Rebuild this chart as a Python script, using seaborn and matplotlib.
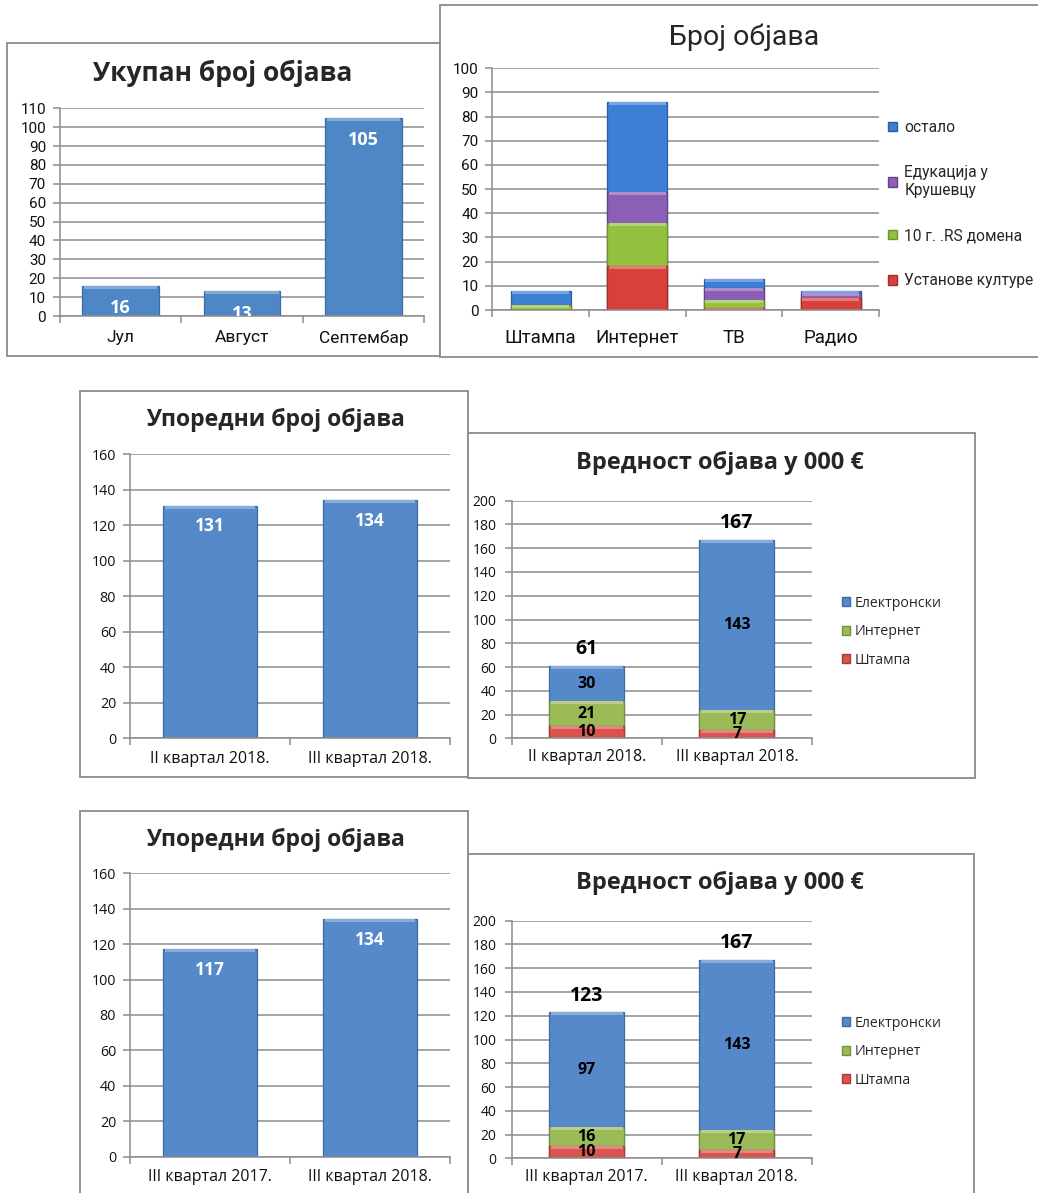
import numpy as np
import pandas as pd
import matplotlib
matplotlib.use("Agg")
import matplotlib.pyplot as plt
from matplotlib.patches import Rectangle, Patch
from matplotlib.colors import to_rgb
import seaborn as sns

# ---------------- data ----------------
months = ["Јул", "Август", "Септембар"]
month_totals = [16, 13, 105]

media = ["Штампа", "Интернет", "ТВ", "Радио"]
topic_names = ["Установе културе", "10 г. .RS домена", "Едукација у\nКрушевцу", "остало"]
topic_culture = [0, 18, 1, 5]
topic_rs = [2, 18, 3, 0]
topic_edu = [0, 13, 5, 2]
topic_other = [6, 37, 4, 1]

quarters_a = ["II квартал 2018.", "III квартал 2018."]
count_a = [131, 134]
quarters_b = ["III квартал 2017.", "III квартал 2018."]
count_b = [117, 134]

value_series = ["Штампа", "Интернет", "Електронски"]
value_print_a = [10, 7]
value_web_a = [21, 17]
value_elec_a = [30, 143]
value_print_b = [10, 7]
value_web_b = [16, 17]
value_elec_b = [97, 143]

# ---------------- style ----------------
sns.set_theme(style="white")
plt.rcParams['font.family'] = ['Roboto', 'DejaVu Sans']

W, H = 1038, 1193
fig = plt.figure(figsize=(W / 100, H / 100), dpi=100)
fig.patch.set_facecolor("white")

GRID = "#8c8c8c"
CAL = ['Open Sans', 'DejaVu Sans']
ROB = ['Roboto', 'DejaVu Sans']


def lighten(c, f):
    r, g, b = to_rgb(c)
    return (r + (1 - r) * f, g + (1 - g) * f, b + (1 - b) * f)


def box(x0, y0, x1, y1):
    r = Rectangle((x0 / W, 1 - y1 / H), (x1 - x0) / W, (y1 - y0) / H,
                  transform=fig.transFigure, facecolor="white",
                  edgecolor="#8a8a8a", linewidth=1.3, zorder=0)
    fig.add_artist(r)


def make_ax(x0, x1, ytop, ybot):
    ax = fig.add_axes([x0 / W, 1 - ybot / H, (x1 - x0) / W, (ybot - ytop) / H], zorder=2)
    ax._px_h = ybot - ytop
    return ax


def bars(ax, df, x, y, color, edge, width, ymax, seg=None):
    n0 = len(ax.patches)
    sns.barplot(data=df, x=x, y=y, color=color, width=width, ax=ax,
                edgecolor=edge, linewidth=0.9, saturation=1)
    hl = 3.0 * ymax / ax._px_h
    light = lighten(color, 0.3)
    for j, p in enumerate(ax.patches[n0:]):
        if p.get_height() <= 0:
            continue
        if seg is not None and seg[j] <= 0:
            continue
        ax.add_patch(Rectangle((p.get_x() + p.get_width() * 0.02, p.get_height() - hl),
                               p.get_width() * 0.96, hl, facecolor=light,
                               edgecolor="none", zorder=p.get_zorder() + 0.1))


def style_ax(ax, ymax, step, ncat, fam, yfs, xfs, ypad, xpad):
    ax.set_facecolor("none")
    ax.set_ylim(0, ymax)
    ax.set_xlim(-0.5, ncat - 0.5)
    ax.set_yticks(np.arange(0, ymax + 1, step))
    ax.yaxis.grid(True, color=GRID, linewidth=1.1)
    ax.xaxis.grid(False)
    ax.set_axisbelow(True)
    for s in ["top", "right"]:
        ax.spines[s].set_visible(False)
    for s in ["left", "bottom"]:
        ax.spines[s].set_color(GRID)
        ax.spines[s].set_linewidth(1.1)
    ax.tick_params(axis="y", left=True, length=5, width=1.1, color=GRID,
                   labelsize=yfs, pad=ypad, labelcolor="#111111")
    ax.set_xticks(np.arange(-0.5, ncat, 1.0), minor=True)
    ax.tick_params(axis="x", which="minor", bottom=True, length=5, width=1.1, color=GRID)
    ax.tick_params(axis="x", which="major", bottom=False, length=0,
                   labelsize=xfs, pad=xpad, labelcolor="#111111")
    for lab in ax.get_yticklabels() + ax.get_xticklabels():
        lab.set_family(fam)
    ax.set_xlabel("")
    ax.set_ylabel("")


# ========== Panel 1 ==========
box(7, 43, 440, 356)
fig.text(223 / W, 1 - 73 / H, "Укупан број објава", ha="center", va="center",
         fontsize=19, fontweight="bold", family=CAL)
ax1 = make_ax(60, 424, 108.3, 316)
df1 = pd.DataFrame({"m": months, "v": month_totals})
bars(ax1, df1, "m", "v", "#4f86c6", "#3b6ca8", 0.63, 110)
style_ax(ax1, 110, 10, 3, ROB, 11, 12.5, 5, 10)
for i, v in enumerate(month_totals):
    ax1.annotate(str(v), (i, v), xytext=(0, -16), textcoords="offset points",
                 ha="center", va="center", color="white", fontsize=13,
                 fontweight="bold", family=CAL, annotation_clip=True,
                 clip_on=True)

# ========== Panel 2 ==========
box(440, 5, 1045, 357)
fig.text(744 / W, 1 - 37 / H, "Број објава", ha="center", va="center",
         fontsize=20.5, family=ROB, fontweight="normal")
ax2 = make_ax(492.3, 879, 68.3, 310)
cols2 = ["#d8403c", "#94c13f", "#8a5fb5", "#3c7fd4"]
edges2 = ["#a82d2a", "#6f9428", "#66428c", "#2a5fa6"]
series2 = [topic_culture, topic_rs, topic_edu, topic_other]
cum = np.cumsum(np.array(series2), axis=0)
for k in range(len(series2) - 1, -1, -1):
    dfk = pd.DataFrame({"m": media, "v": cum[k]})
    bars(ax2, dfk, "m", "v", cols2[k], edges2[k], 0.62, 100, seg=series2[k])
style_ax(ax2, 100, 10, 4, ROB, 11, 13.5, 5, 14)
handles2 = [Patch(facecolor=cols2[k], edgecolor=edges2[k], label=topic_names[k])
            for k in range(len(series2) - 1, -1, -1)]
fig.legend(handles=handles2, loc="upper left",
           bbox_to_anchor=(874 / W, 1 - 106 / H), frameon=False,
           handlelength=0.55, handleheight=0.55, handletextpad=0.5,
           labelspacing=1.95, prop={"family": ROB, "size": 11.2})

# ========== Panels 3 & 5 ==========
def count_panel(bx, ax_rect, title_y, cats, vals):
    box(*bx)
    fig.text(275 / W, 1 - title_y / H, "Упоредни број објава", ha="center", va="center",
             fontsize=16.6, fontweight="bold", family=CAL)
    ax = make_ax(*ax_rect)
    df = pd.DataFrame({"q": cats, "v": vals})
    bars(ax, df, "q", "v", "#5589c9", "#3d6aa3", 0.585, 160)
    style_ax(ax, 160, 20, 2, CAL, 10.3, 11.5, 5, 9)
    for i, v in enumerate(vals):
        ax.annotate(str(v), (i, v), xytext=(0, -15), textcoords="offset points",
                    ha="center", va="center", color="white", fontsize=12.5,
                    fontweight="bold", family=CAL)
    return ax


count_panel((80, 390.7, 468, 776.7), (130, 450, 454, 738.3), 420, quarters_a, count_a)
count_panel((80, 810.7, 468, 1196), (130, 450, 873.3, 1156.7), 840, quarters_b, count_b)

# ========== Panels 4 & 6 ==========
cols4 = ["#d9534f", "#9bbb59", "#5589c9"]
edges4 = ["#a83a37", "#74913a", "#3d6aa3"]


def value_panel(bx, ax_rect, title_y, leg_y, cats, s_print, s_web, s_elec):
    box(*bx)
    fig.text(720 / W, 1 - title_y / H, "Вредност објава у 000 €", ha="center", va="center",
             fontsize=17, fontweight="bold", family=CAL)
    ax = make_ax(*ax_rect)
    series = [s_print, s_web, s_elec]
    c = np.cumsum(np.array(series), axis=0)
    for k in range(2, -1, -1):
        dfk = pd.DataFrame({"q": cats, "v": c[k]})
        bars(ax, dfk, "q", "v", cols4[k], edges4[k], 0.5, 200, seg=series[k])
    style_ax(ax, 200, 20, 2, CAL, 10, 11.3, 6, 8)
    for i in range(len(cats)):
        base = 0
        for k in range(3):
            v = series[k][i]
            ax.text(i, base + v / 2, str(v), ha="center", va="center", color="black",
                    fontsize=11.5, fontweight="bold", family=CAL, clip_on=False)
            base += v
        ax.annotate(str(base), (i, base), xytext=(0, 12), textcoords="offset points",
                    ha="center", va="center", color="black", fontsize=14,
                    fontweight="bold", family=CAL)
    handles = [Patch(facecolor=cols4[k], edgecolor=edges4[k], label=value_series[k])
               for k in range(2, -1, -1)]
    fig.legend(handles=handles, loc="upper left",
               bbox_to_anchor=(829 / W, 1 - (leg_y - 2) / H), frameon=False,
               handlelength=0.6, handleheight=0.6, handletextpad=0.3,
               labelspacing=0.95, prop={"family": CAL, "size": 10.2})
    return ax


value_panel((468, 433, 975, 778), (511.7, 812, 500.7, 738.3), 463, 585,
            quarters_a, value_print_a, value_web_a, value_elec_a)
value_panel((468, 854, 974, 1196), (511.7, 811.7, 920.7, 1158.3), 883, 1005,
            quarters_b, value_print_b, value_web_b, value_elec_b)

fig.savefig("out.png", dpi=100, facecolor="white")
